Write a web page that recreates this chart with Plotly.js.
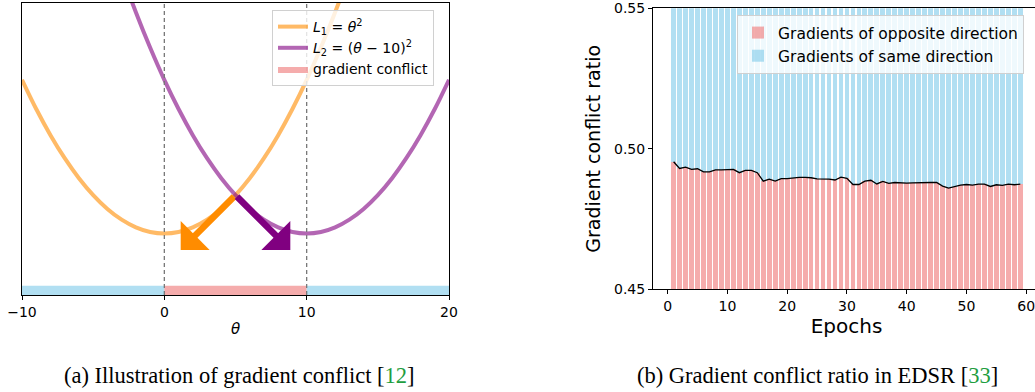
<!DOCTYPE html>
<html>
<head>
<meta charset="utf-8">
<script src="https://cdn.plot.ly/plotly-3.0.1.min.js"></script>
<style>
html,body{margin:0;padding:0;background:#fff;overflow:hidden;width:1035px;height:392px;}
#chart{width:1045px;height:392px;}
</style>
</head>
<body>
<div id="chart"></div>
<script>
// ---------- Panel (a): illustration of gradient conflict ----------
const theta = [-10,-9,-8,-7,-6,-5,-4,-3,-2,-1,0,1,2,3,4,5,6,7,8,9,10,11,12,13,14,15,16,17,18,19,20];
const lossL1 = [100,81,64,49,36,25,16,9,4,1,0,1,4,9,16,25,36,49,64,81,100,121,144,169,196,225,256,289,324,361,400];
const lossL2 = [400,361,324,289,256,225,196,169,144,121,100,81,64,49,36,25,16,9,4,1,0,1,4,9,16,25,36,49,64,81,100];
const bandStart = [-10, 0, 10];
const bandEnd = [0, 10, 20];
const bandIsConflict = [false, true, false];
const bandLow = -40, bandHigh = -34;
const dashedAt = [0, 10];
const arrowTail = [5, 25];
const arrowTipL1 = [1.15, -10.7];
const arrowTipL2 = [8.85, -10.7];

// ---------- Panel (b): gradient conflict ratio in EDSR ----------
const epochs = [1,2,3,4,5,6,7,8,9,10,11,12,13,14,15,16,17,18,19,20,21,22,23,24,25,26,27,28,29,30,31,32,33,34,35,36,37,38,39,40,41,42,43,44,45,46,47,48,49,50,51,52,53,54,55,56,57,58,59];
const oppositeRatio = [0.4954,0.4930,0.4935,0.4927,0.4929,0.4918,0.4918,0.4925,0.4925,0.4925,
  0.4927,0.4915,0.4923,0.4923,0.4915,0.4885,0.4892,0.4885,0.4894,0.4894,
  0.4897,0.4898,0.4898,0.4897,0.4893,0.4893,0.4892,0.4889,0.4899,0.4895,
  0.4873,0.4873,0.4885,0.4888,0.4875,0.4884,0.4877,0.4880,0.4878,0.4878,
  0.4879,0.4880,0.4880,0.4880,0.4880,0.4867,0.4860,0.4865,0.4871,0.4873,
  0.4871,0.4874,0.4874,0.4866,0.4872,0.4870,0.4874,0.4872,0.4874];
const sameRatio = oppositeRatio.map(v => 1 - v);
const epochTicks = [0, 10, 20, 30, 40, 50, 60];
const ratioTicks = [0.45, 0.50, 0.55];

const FONT = 'DejaVu Sans, sans-serif';
const ORANGE_LINE = 'rgba(255,140,0,0.6)';
const PURPLE_LINE = 'rgba(128,0,128,0.6)';
const RED_FILL = 'rgba(240,128,128,0.65)';
const BLUE_FILL = 'rgba(135,206,235,0.65)';

const traces = [];
traces.push({x: theta, y: lossL1, type: 'scatter', mode: 'lines', line: {color: ORANGE_LINE, width: 4, shape: 'spline'},
  name: '<i>L</i><sub>1</sub> = <i>θ</i><sup>2</sup>', xaxis: 'x', yaxis: 'y', legend: 'legend'});
traces.push({x: theta, y: lossL2, type: 'scatter', mode: 'lines', line: {color: PURPLE_LINE, width: 4, shape: 'spline'},
  name: '<i>L</i><sub>2</sub> = (<i>θ</i> − 10)<sup>2</sup>', xaxis: 'x', yaxis: 'y', legend: 'legend'});
bandStart.forEach((s, i) => {
  const e = bandEnd[i];
  traces.push({x: [s, e, e, s, s], y: [bandLow, bandLow, bandHigh, bandHigh, bandLow], type: 'scatter', mode: 'lines',
    fill: 'toself', fillcolor: bandIsConflict[i] ? RED_FILL : BLUE_FILL, line: {width: 0},
    name: 'gradient conflict', showlegend: bandIsConflict[i], xaxis: 'x', yaxis: 'y', legend: 'legend', hoverinfo: 'skip'});
});

traces.push({x: epochs, y: oppositeRatio, type: 'bar', marker: {color: RED_FILL, line: {width: 0}},
  name: 'Gradients of opposite direction', xaxis: 'x2', yaxis: 'y2', legend: 'legend2'});
traces.push({x: epochs, y: sameRatio, type: 'bar', marker: {color: BLUE_FILL, line: {width: 0}},
  name: 'Gradients of same direction', xaxis: 'x2', yaxis: 'y2', legend: 'legend2'});
traces.push({x: epochs, y: oppositeRatio, type: 'scatter', mode: 'lines', line: {color: '#000', width: 1.3},
  showlegend: false, xaxis: 'x2', yaxis: 'y2'});

const W = 1045, H = 392;
const px = v => v / W, py = v => 1 - v / H;

const shapes = dashedAt.map(v => ({type: 'line', xref: 'x', yref: 'y domain', x0: v, x1: v, y0: 0, y1: 1,
  line: {color: '#777', width: 1.3, dash: '4px,3px'}}));

const annotations = [
  {x: arrowTipL1[0], y: arrowTipL1[1], ax: arrowTail[0], ay: arrowTail[1], xref: 'x', yref: 'y', axref: 'x', ayref: 'y',
    text: '', showarrow: true, arrowhead: 1, arrowsize: 1.05, arrowwidth: 6.5, arrowcolor: '#ff8c00'},
  {x: arrowTipL2[0], y: arrowTipL2[1], ax: arrowTail[0], ay: arrowTail[1], xref: 'x', yref: 'y', axref: 'x', ayref: 'y',
    text: '', showarrow: true, arrowhead: 1, arrowsize: 1.05, arrowwidth: 6.5, arrowcolor: '#800080'},
  {xref: 'paper', yref: 'paper', x: px(239), y: py(375), xanchor: 'center', yanchor: 'middle', showarrow: false,
    text: '(a) Illustration of gradient conflict [<span style="color:#1f9e3f">12</span>]',
    font: {family: 'Liberation Serif, serif', size: 22.5, color: '#000'}},
  {xref: 'paper', yref: 'paper', x: px(817), y: py(375), xanchor: 'center', yanchor: 'middle', showarrow: false,
    text: '(b) Gradient conflict ratio in EDSR [<span style="color:#1f9e3f">33</span>]',
    font: {family: 'Liberation Serif, serif', size: 22.5, color: '#000'}}
];

const layout = {
  width: W, height: H,
  margin: {l: 0, r: 0, t: 0, b: 0},
  paper_bgcolor: '#fff', plot_bgcolor: '#fff',
  font: {family: FONT, size: 14, color: '#000'},
  barmode: 'stack', bargap: 0.2,
  showlegend: true,
  xaxis: {domain: [px(22), px(449)], range: [-10, 20], tickvals: [-10, 0, 10, 20], ticks: 'outside', ticklen: 4,
    tickcolor: '#000', showline: true, linecolor: '#000', linewidth: 1, mirror: true, showgrid: false, zeroline: false,
    tickfont: {size: 14}, title: {text: '<i>θ</i>', font: {size: 15}, standoff: 4}, anchor: 'y'},
  yaxis: {domain: [py(295), py(3)], range: [-40, 150], showticklabels: false, ticks: '', showline: true,
    linecolor: '#000', linewidth: 1, mirror: true, showgrid: false, zeroline: false, anchor: 'x'},
  xaxis2: {domain: [px(653), px(1040)], range: [-2.45, 62.3], tickvals: epochTicks, ticks: 'outside', ticklen: 4,
    tickcolor: '#000', showline: true, linecolor: '#000', linewidth: 1, mirror: true, showgrid: false, zeroline: false,
    tickfont: {size: 14}, title: {text: 'Epochs', font: {size: 20}, standoff: 2}, anchor: 'y2'},
  yaxis2: {domain: [py(289.3), py(8.3)], range: [0.45, 0.55], tickvals: ratioTicks, tickformat: '.2f',
    ticks: 'outside', ticklen: 4, tickcolor: '#000', showline: true, linecolor: '#000', linewidth: 1, mirror: true,
    showgrid: false, zeroline: false, tickfont: {size: 14},
    title: {text: 'Gradient conflict ratio', font: {size: 19}, standoff: 8}, anchor: 'x2'},
  legend: {x: px(272), y: py(10), xanchor: 'left', yanchor: 'top', bgcolor: 'rgba(255,255,255,0.8)',
    bordercolor: '#d0d0d0', borderwidth: 1, font: {size: 14, family: FONT}, itemwidth: 30, tracegroupgap: 0},
  legend2: {x: px(737), y: py(15), xanchor: 'left', yanchor: 'top', bgcolor: 'rgba(255,255,255,0.8)',
    bordercolor: '#d0d0d0', borderwidth: 1, font: {size: 15.5, family: FONT}, itemwidth: 30, traceorder: 'normal'},
  shapes: shapes,
  annotations: annotations
};

Plotly.newPlot('chart', traces, layout, {displayModeBar: false, staticPlot: true});
</script>
</body>
</html>
